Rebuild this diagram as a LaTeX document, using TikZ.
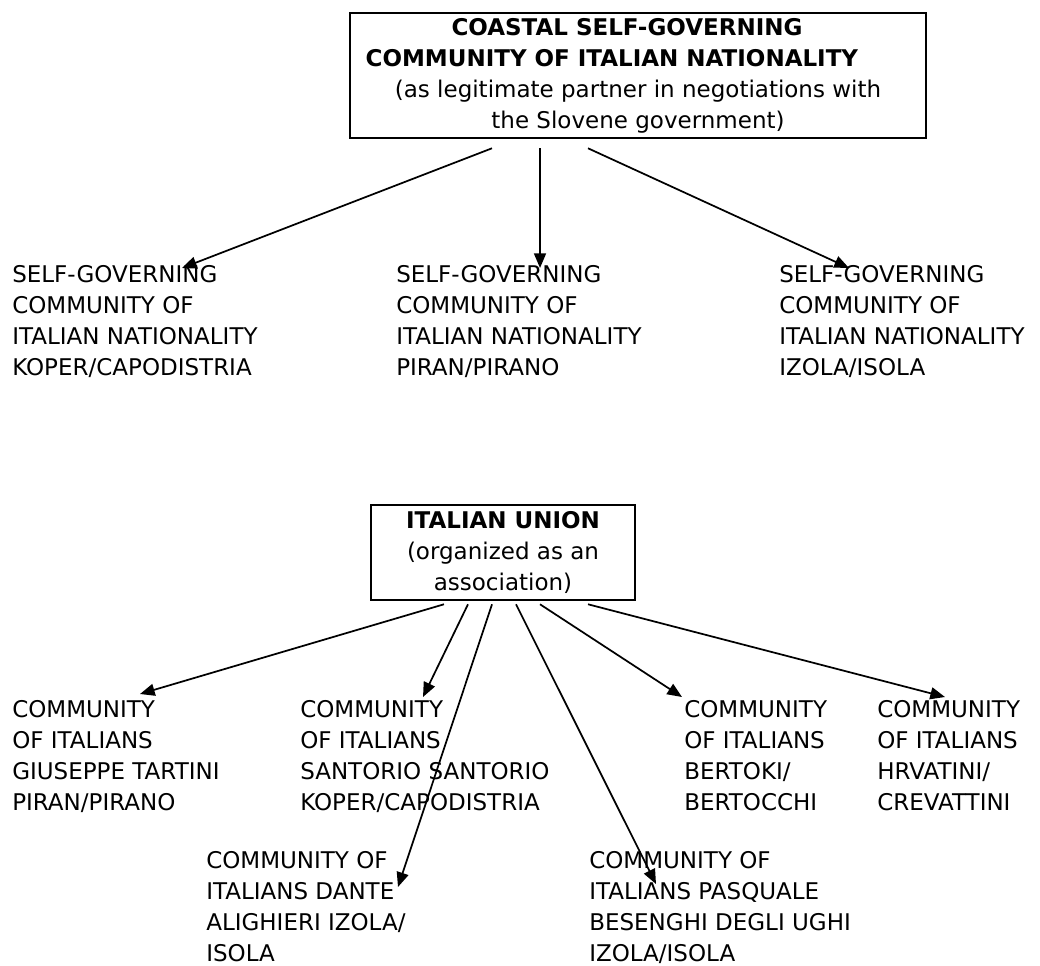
\documentclass[tikz,border=0pt]{standalone}
\usepackage{fontspec}
\setmainfont{DejaVu Sans}
\usetikzlibrary{arrows.meta, calc}

\begin{document}
\begin{tikzpicture}[
    x=0.75pt, y=-0.75pt,
    font=\fontsize{17.25pt}{23.25pt}\selectfont,
    head/.style={draw, line width=1.9pt, align=center, inner sep=0pt},
    unit/.style={anchor=north west, align=left, inner sep=0pt},
    arr/.style={-{Triangle[length=11pt, width=9pt]}, line width=1.3pt},
]
\useasboundingbox (0,0) rectangle (1040,965);

% Coastal community and the three municipal communities
\node[head, minimum width=432pt, minimum height=93.75pt] (coastal) at (638,75.5)
    {\textbf{COASTAL SELF-GOVERNING}\hbox to 16.5pt{}\\
     \textbf{COMMUNITY OF ITALIAN NATIONALITY}\hbox to 39pt{}\\
     (as legitimate partner in negotiations with\\
     the Slovene government)};
\node[unit] (koper) at (12,265) {SELF-GOVERNING\\COMMUNITY OF\\ITALIAN NATIONALITY\\KOPER/CAPODISTRIA};
\node[unit] (piran) at (396,265) {SELF-GOVERNING\\COMMUNITY OF\\ITALIAN NATIONALITY\\PIRAN/PIRANO};
\node[unit] (izola) at (779,265) {SELF-GOVERNING\\COMMUNITY OF\\ITALIAN NATIONALITY\\IZOLA/ISOLA};
\draw[arr] ($(coastal.south)+(-146,9)$) -- ($(koper.north west)+(170,3)$);
\draw[arr] ($(coastal.south)+(-98,9)$) -- ($(piran.north west)+(144,3)$);
\draw[arr] ($(coastal.south)+(-50,9)$) -- ($(izola.north west)+(70,3)$);

% Italian Union and the local communities
\node[head, minimum width=198pt, minimum height=71.25pt] (union) at (503,552.5)
    {\textbf{ITALIAN UNION}\\(organized as an\\association)};
\node[unit] (tartini) at (12,700) {COMMUNITY\\OF ITALIANS\\GIUSEPPE TARTINI\\PIRAN/PIRANO};
\node[unit] (santorio) at (300,700) {COMMUNITY\\OF ITALIANS\\SANTORIO SANTORIO\\KOPER/CAPODISTRIA};
\node[unit] (bertoki) at (684,700) {COMMUNITY\\OF ITALIANS\\BERTOKI/\\BERTOCCHI};
\node[unit] (hrvatini) at (877,700) {COMMUNITY\\OF ITALIANS\\HRVATINI/\\CREVATTINI};
\node[unit] (dante) at (206,851) {COMMUNITY OF\\ITALIANS DANTE\\ALIGHIERI IZOLA/\\ISOLA};
\node[unit] (besenghi) at (589,851) {COMMUNITY OF\\ITALIANS PASQUALE\\BESENGHI DEGLI UGHI\\IZOLA/ISOLA};
\draw[arr] ($(union.south)+(-59,3)$) -- ($(tartini.north west)+(128,-6)$);
\draw[arr] ($(union.south)+(-35,3)$) -- ($(santorio.north west)+(123,-3)$);
\draw[arr] ($(union.south)+(-11,3)$) -- ($(dante.north west)+(192,36)$);
\draw[arr] ($(union.south)+(13,3)$) -- ($(besenghi.north west)+(67,33)$);
\draw[arr] ($(union.south)+(37,3)$) -- ($(bertoki.north west)+(-2,-3)$);
\draw[arr] ($(union.south)+(85,3)$) -- ($(hrvatini.north west)+(68,-3)$);
\end{tikzpicture}
\end{document}
